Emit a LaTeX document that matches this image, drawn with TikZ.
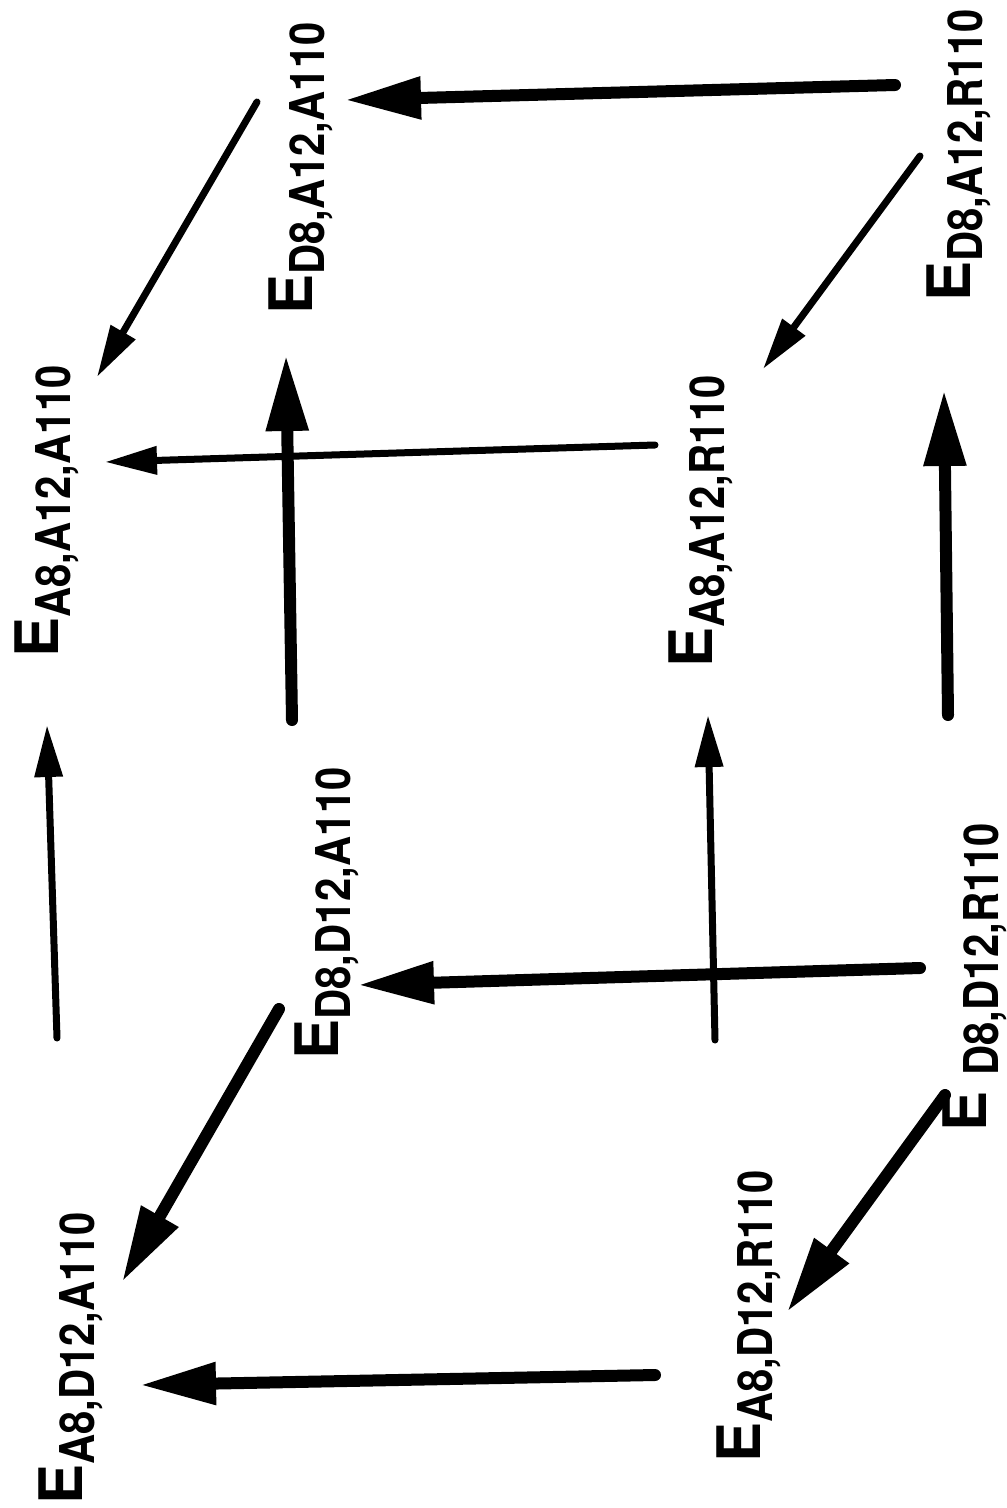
\documentclass[tikz,border=0pt]{standalone}
\usepackage{fontspec}
\setmainfont{TeX Gyre Heros}
\newfontfamily\subfam{TeX Gyre Heros}[FakeStretch=0.87]
\usetikzlibrary{arrows.meta}

% energy label: large E followed by a lowered, narrow subscript
\newcommand{\elabel}[2][0pt]{%
  {\fontsize{60}{60}\selectfont\bfseries E}\kern#1%
  \raisebox{-12pt}{\subfam\bfseries\fontsize{48}{48}\selectfont #2}}

\begin{document}
\begin{tikzpicture}[x=1pt,y=-1pt,
  lab/.style={rotate=90, anchor=base west, inner sep=0pt},
  thinarr/.style={line width=7pt, line cap=round,
    -{Triangle[length=52pt,width=27pt]}},
  thickarr/.style={line width=12pt, line cap=round,
    -{Triangle[length=76pt,width=40pt]}}]
\useasboundingbox (0,0) rectangle (1007,1508);

% states (corners of the cube)
\node[lab] (aaa) at (58,658)   {\elabel{A8,A12,A110}};
\node[lab] (daa) at (312,315)  {\elabel{D8,A12,A110}};
\node[lab] (dar) at (970,302)  {\elabel{D8,A12,R110}};
\node[lab] (aar) at (712,668)  {\elabel{A8,A12,R110}};
\node[lab] (dda) at (338,1060) {\elabel{D8,D12,A110}};
\node[lab] (ddr) at (986,1132) {\elabel[16pt]{D8,D12,R110}};
\node[lab] (ada) at (82,1505)  {\elabel{A8,D12,A110}};
\node[lab] (adr) at (760,1463) {\elabel{A8,D12,R110}};

% arrow end points next to the labels
\coordinate (daa-s1) at (257,102);  \coordinate (aaa-e1) at (97,377);
\coordinate (dar-s1) at (920,156);  \coordinate (aar-e1) at (763,369);
\coordinate (aar-s1) at (655,445);  \coordinate (aaa-e2) at (105,462);
\coordinate (ada-s1) at (57,1038);  \coordinate (aaa-e3) at (47,725);
\coordinate (adr-s1) at (715,1040); \coordinate (aar-e2) at (708,715);
\coordinate (dar-s2) at (895,85);   \coordinate (daa-e1) at (345,100);
\coordinate (dda-s1) at (292,720);  \coordinate (daa-e2) at (286,355);
\coordinate (ddr-s1) at (948,715);  \coordinate (dar-e1) at (944,390);
\coordinate (ddr-s2) at (920,968);  \coordinate (dda-e1) at (358,985);
\coordinate (dda-s2) at (279,1009); \coordinate (ada-e1) at (122,1282);
\coordinate (ddr-s3) at (945,1095); \coordinate (adr-e1) at (787,1312);
\coordinate (adr-s2) at (655,1375); \coordinate (ada-e2) at (140,1385);

% thin transitions
\draw[thinarr] (daa-s1) -- (aaa-e1);
\draw[thinarr] (dar-s1) -- (aar-e1);
\draw[thinarr] (aar-s1) -- (aaa-e2);
\draw[thinarr] (ada-s1) -- (aaa-e3);
\draw[thinarr] (adr-s1) -- (aar-e2);

% thick transitions
\draw[thickarr] (dar-s2) -- (daa-e1);
\draw[thickarr] (dda-s1) -- (daa-e2);
\draw[thickarr] (ddr-s1) -- (dar-e1);
\draw[thickarr] (ddr-s2) -- (dda-e1);
\draw[thickarr] (dda-s2) -- (ada-e1);
\draw[thickarr] (ddr-s3) -- (adr-e1);
\draw[thickarr] (adr-s2) -- (ada-e2);
\end{tikzpicture}
\end{document}
